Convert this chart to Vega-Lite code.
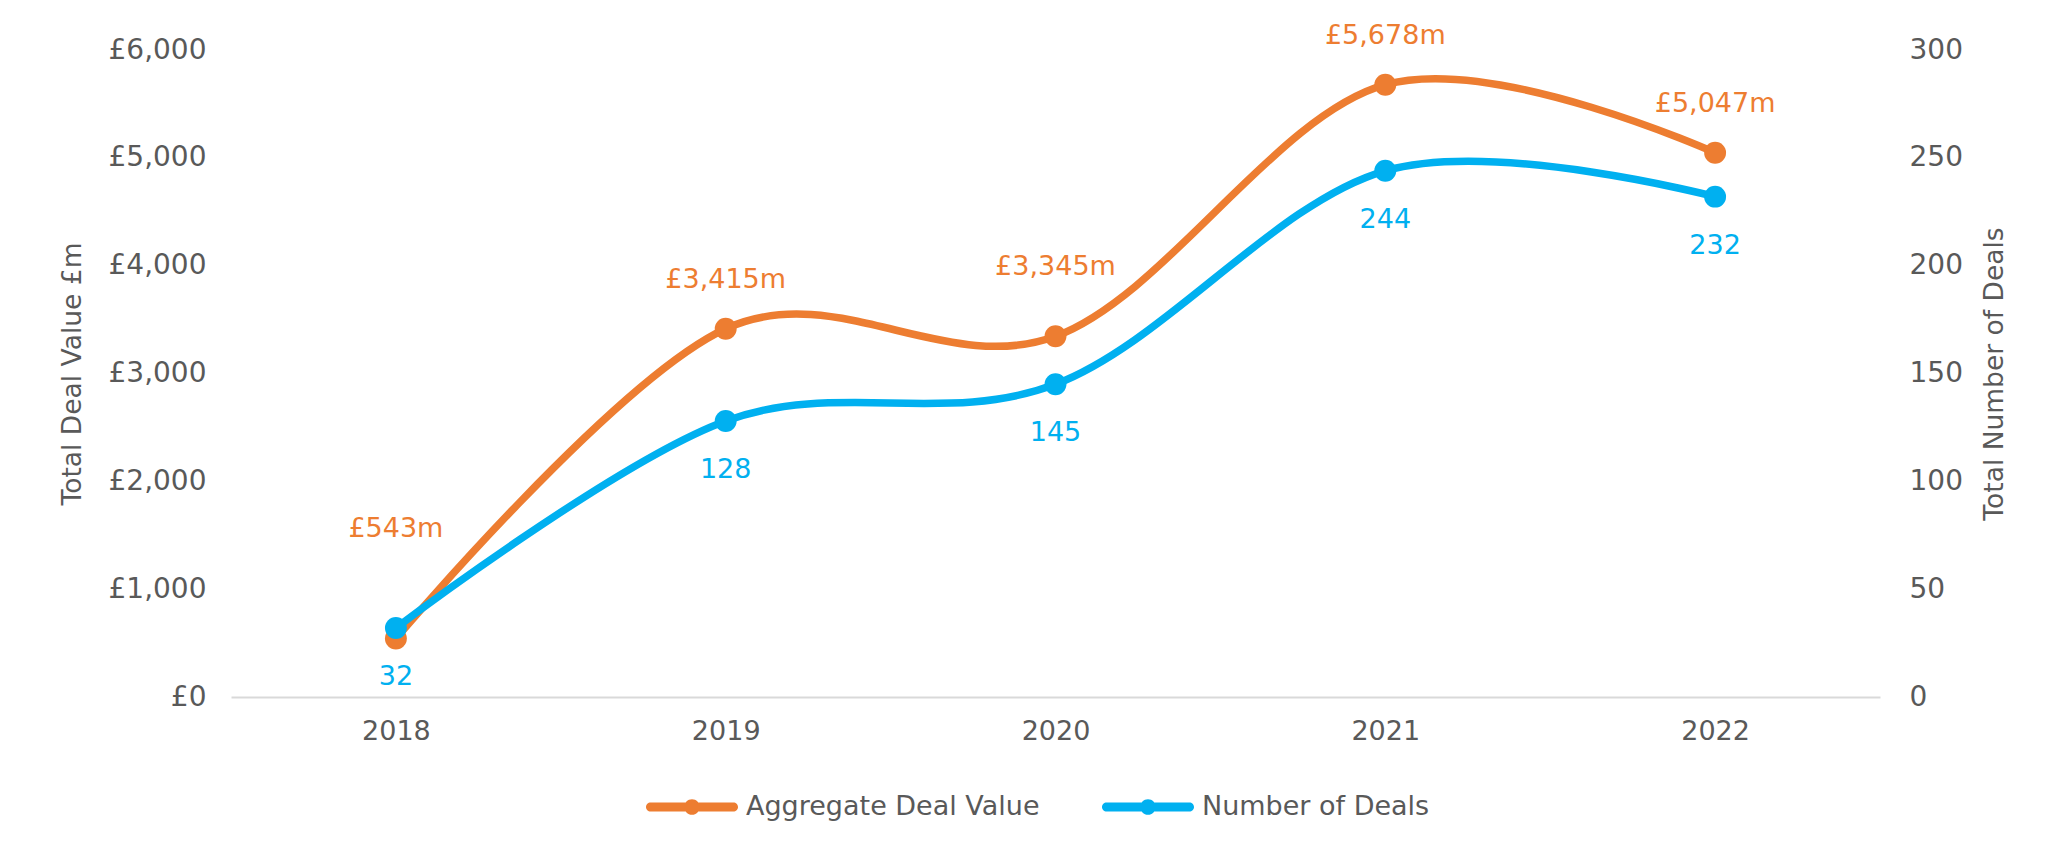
{
  "$schema": "https://vega.github.io/schema/vega-lite/v6.json",
  "width": 1649,
  "height": 647,
  "autosize": "none",
  "padding": {"left": 231, "top": 50, "right": 188, "bottom": 169},
  "background": "#ffffff",
  "config": {
    "view": {"stroke": null},
    "locale": {"number": {"decimal": ".", "thousands": ",", "grouping": [3], "currency": ["£", "m"]}},
    "axis": {
      "grid": false,
      "ticks": false,
      "labelFont": "DejaVu Sans",
      "labelFontSize": 28,
      "labelColor": "#595959",
      "titleFont": "DejaVu Sans",
      "titleFontWeight": "normal",
      "titleFontSize": 26.5,
      "titleColor": "#595959"
    }
  },
  "data": {
    "values": [
      {"year": "2018", "series": "Aggregate Deal Value", "value": 543},
      {"year": "2019", "series": "Aggregate Deal Value", "value": 3415},
      {"year": "2020", "series": "Aggregate Deal Value", "value": 3345},
      {"year": "2021", "series": "Aggregate Deal Value", "value": 5678},
      {"year": "2022", "series": "Aggregate Deal Value", "value": 5047},
      {"year": "2018", "series": "Number of Deals", "value": 32},
      {"year": "2019", "series": "Number of Deals", "value": 128},
      {"year": "2020", "series": "Number of Deals", "value": 145},
      {"year": "2021", "series": "Number of Deals", "value": 244},
      {"year": "2022", "series": "Number of Deals", "value": 232}
    ]
  },
  "encoding": {
    "x": {
      "field": "year",
      "type": "ordinal",
      "scale": {"type": "point", "padding": 0.5},
      "axis": {
        "title": null,
        "labelAngle": 0,
        "labelFontSize": 27,
        "domainColor": "#D9D9D9",
        "domainWidth": 2,
        "labelPadding": 34,
        "labelBaseline": "middle"
      }
    },
    "color": {
      "field": "series",
      "type": "nominal",
      "scale": {"domain": ["Aggregate Deal Value", "Number of Deals"], "range": ["#ED7D31", "#00B0F0"]},
      "legend": {
        "orient": "none",
        "legendX": 415,
        "legendY": 711,
        "direction": "horizontal",
        "title": null,
        "symbolType": "M-0.9,-0.1L0.9,-0.1A0.1,0.1,0,0,1,0.9,0.1L-0.9,0.1A0.1,0.1,0,0,1,-0.9,-0.1Z M-0.17,0A0.17,0.17,0,1,1,0.17,0A0.17,0.17,0,1,1,-0.17,0Z",
        "symbolSize": 8464,
        "symbolStrokeWidth": 0,
        "symbolOpacity": 1,
        "labelFont": "DejaVu Sans",
        "labelFontSize": 27,
        "labelColor": "#595959",
        "labelOffset": 8,
        "columnPadding": 62,
        "labelLimit": 600,
        "encode": {
          "symbols": {
            "update": {
              "fill": {"scale": "color", "field": "value"},
              "stroke": {"value": "transparent"},
              "opacity": {"value": 1}
            }
          }
        }
      }
    }
  },
  "layer": [
    {
      "transform": [{"filter": "datum.series === 'Aggregate Deal Value'"}],
      "encoding": {
        "y": {
          "field": "value",
          "type": "quantitative",
          "scale": {"domain": [0, 6000]},
          "axis": {
            "orient": "left",
            "values": [0, 1000, 2000, 3000, 4000, 5000, 6000],
            "labelExpr": "'£' + format(datum.value, ',')",
            "domain": false,
            "labelPadding": 25,
            "title": "Total Deal Value £m",
            "titleAngle": 270,
            "titleX": -159,
            "titleY": 323.5,
            "titleAlign": "center",
            "titleBaseline": "middle"
          }
        }
      },
      "layer": [
        {"mark": {"type": "line", "interpolate": "cardinal", "tension": 0, "strokeWidth": 7.5, "strokeCap": "round"}},
        {"mark": {"type": "point", "filled": true, "shape": "circle", "size": 480, "opacity": 1}},
        {
          "transform": [{"filter": "datum.year === '2018'"}],
          "mark": {"type": "text", "dy": -109, "font": "DejaVu Sans", "fontSize": 27, "baseline": "middle"},
          "encoding": {"text": {"field": "value", "type": "quantitative", "format": "$,.0f"}}
        },
        {
          "transform": [{"filter": "datum.year === '2020'"}],
          "mark": {"type": "text", "dy": -69, "font": "DejaVu Sans", "fontSize": 27, "baseline": "middle"},
          "encoding": {"text": {"field": "value", "type": "quantitative", "format": "$,.0f"}}
        },
        {
          "transform": [{"filter": "datum.year !== '2018' && datum.year !== '2020'"}],
          "mark": {"type": "text", "dy": -49, "font": "DejaVu Sans", "fontSize": 27, "baseline": "middle"},
          "encoding": {"text": {"field": "value", "type": "quantitative", "format": "$,.0f"}}
        }
      ]
    },
    {
      "transform": [{"filter": "datum.series === 'Number of Deals'"}],
      "encoding": {
        "y": {
          "field": "value",
          "type": "quantitative",
          "scale": {"domain": [0, 300]},
          "axis": {
            "orient": "right",
            "values": [0, 50, 100, 150, 200, 250, 300],
            "domain": false,
            "labelPadding": 29,
            "title": "Total Number of Deals",
            "titleAngle": 270,
            "titleX": 114,
            "titleY": 323.5,
            "titleAlign": "center",
            "titleBaseline": "middle"
          }
        }
      },
      "layer": [
        {"mark": {"type": "line", "interpolate": "cardinal", "tension": 0, "strokeWidth": 7.5, "strokeCap": "round"}},
        {"mark": {"type": "point", "filled": true, "shape": "circle", "size": 480, "opacity": 1}},
        {
          "mark": {"type": "text", "dy": 49, "font": "DejaVu Sans", "fontSize": 27, "baseline": "middle"},
          "encoding": {"text": {"field": "value", "type": "quantitative", "format": "d"}}
        }
      ]
    }
  ],
  "resolve": {"scale": {"y": "independent"}}
}
